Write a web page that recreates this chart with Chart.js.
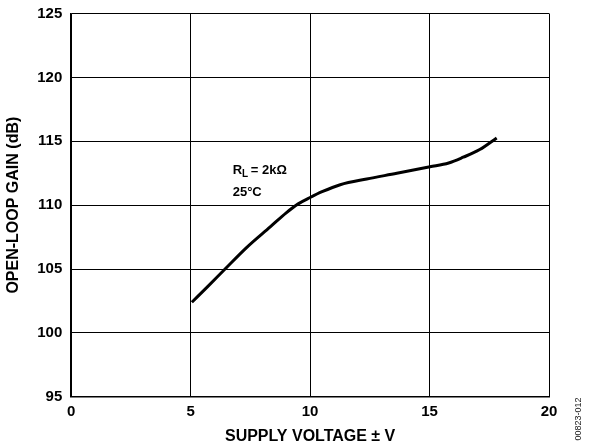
<!DOCTYPE html>
<html><head><meta charset="utf-8">
<script src="https://cdn.jsdelivr.net/npm/chart.js@4/dist/chart.umd.min.js"></script>
<style>html,body{margin:0;padding:0;background:#fff;}#wrap{width:589px;height:446px;position:relative;}</style>
</head><body><div id="wrap"><canvas id="c" width="589" height="446"></canvas></div>
<script>
const supplyVoltage = [5.05, 5.7, 6.44, 7.35, 8.33, 9.0, 9.5, 10.0, 10.5, 11.26, 12.37, 13.63, 15.02, 15.8, 16.41, 17.1, 17.81];
const openLoopGain = [102.4, 103.6, 105.0, 106.7, 108.3, 109.4, 110.1, 110.6, 111.05, 111.6, 112.05, 112.49, 113.0, 113.3, 113.75, 114.35, 115.26];
const xTicks = [0, 5, 10, 15, 20];
const yTicks = [95, 100, 105, 110, 115, 120, 125];
const xTitle = 'SUPPLY VOLTAGE \u00B1 V';
const yTitle = 'OPEN-LOOP GAIN (dB)';
const noteLine1 = ['R', 'L', ' = 2k\u03A9'];
const noteLine2 = '25\u00B0C';
const notePos = {x: 6.76, y1: 112.7, y2: 111.0};
const figId = '00823-012';

const FONT = '"Liberation Sans", Arial, Helvetica, sans-serif';

const notes = {
  id: 'notes',
  afterDatasetsDraw(chart) {
    const ctx = chart.ctx, xs = chart.scales.x, ys = chart.scales.y;
    const px = xs.getPixelForValue(notePos.x);
    ctx.save();
    ctx.fillStyle = '#000';
    ctx.textBaseline = 'middle';
    ctx.textAlign = 'left';
    ctx.font = 'bold 13px ' + FONT;
    let y1 = ys.getPixelForValue(notePos.y1);
    ctx.fillText(noteLine1[0], px, y1);
    let w = ctx.measureText(noteLine1[0]).width;
    ctx.font = 'bold 10px ' + FONT;
    ctx.fillText(noteLine1[1], px + w, y1 + 4);
    let w2 = ctx.measureText(noteLine1[1]).width;
    ctx.font = 'bold 13px ' + FONT;
    ctx.fillText(noteLine1[2], px + w + w2 - 1, y1);
    ctx.fillText(noteLine2, px, ys.getPixelForValue(notePos.y2));
    ctx.translate(579, 419);
    ctx.rotate(-Math.PI / 2);
    ctx.textAlign = 'center';
    ctx.font = '9px ' + FONT;
    ctx.fillStyle = '#222';
    ctx.fillText(figId, 0, 0);
    ctx.restore();
  }
};

new Chart(document.getElementById('c'), {
  type: 'scatter',
  data: {
    datasets: [{
      data: supplyVoltage.map((v, i) => ({x: v, y: openLoopGain[i]})),
      showLine: true,
      borderColor: '#000',
      borderWidth: 3,
      pointRadius: 0,
      tension: 0.4,
      cubicInterpolationMode: 'monotone',
      fill: false
    }]
  },
  options: {
    responsive: false,
    animation: false,
    devicePixelRatio: 1,
    layout: {padding: {top: 0, right: 40, bottom: 0, left: 4}},
    plugins: {legend: {display: false}, tooltip: {enabled: false}},
    scales: {
      x: {
        type: 'linear', min: 0, max: 20,
        afterBuildTicks: (s) => { s.ticks = xTicks.map(v => ({value: v})); },
        grid: {color: '#000', lineWidth: 1, drawTicks: false, tickLength: 0},
        border: {color: '#000', width: 1.5},
        ticks: {color: '#000', font: {family: FONT, size: 15, weight: 'bold'}, padding: 6, maxRotation: 0},
        title: {display: true, text: xTitle, color: '#000', font: {family: FONT, size: 16, weight: 'bold'}, padding: {top: 0, bottom: 0}}
      },
      y: {
        type: 'linear', min: 95, max: 125,
        afterBuildTicks: (s) => { s.ticks = yTicks.map(v => ({value: v})); },
        grid: {color: '#000', lineWidth: 1, drawTicks: false, tickLength: 0},
        border: {color: '#000', width: 1.5},
        ticks: {color: '#000', font: {family: FONT, size: 15, weight: 'bold', lineHeight: 0.6}, padding: 9},
        title: {display: true, text: yTitle, color: '#000', font: {family: FONT, size: 16, weight: 'bold'}, padding: {top: 0, bottom: 5}}
      }
    }
  },
  plugins: [notes]
});
</script></body></html>
